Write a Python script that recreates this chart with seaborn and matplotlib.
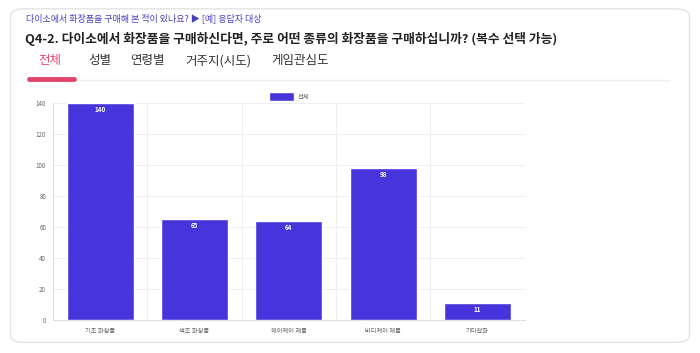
import matplotlib.pyplot as plt
import pandas as pd
import seaborn as sns
from matplotlib.patches import FancyBboxPatch

categories = ["기초 화장품", "색조 화장품", "헤어케어 제품", "바디케어 제품", "기타잡화"]
counts = [140, 65, 64, 98, 11]
series_name = "전체"
y_ticks = [0, 20, 40, 60, 80, 100, 120, 140]
tabs = ["전체", "성별", "연령별", "거주지(시도)", "게임관심도"]

BAR = "#4735dc"

sns.set_theme(style="white")
plt.rcParams["font.family"] = ["Noto Sans CJK KR", "DejaVu Sans"]

df = pd.DataFrame({"category": categories, "count": counts, "series": series_name})

fig = plt.figure(figsize=(7.0, 3.53), dpi=100)

# card background, kept behind the axes
card = FancyBboxPatch((0.015, 0.03), 0.97, 0.945, boxstyle="round,pad=0,rounding_size=0.02",
                      transform=fig.transFigure, facecolor="white", edgecolor="#e3e3e3",
                      lw=1, zorder=-10)
fig.patches.append(card)

fig.text(0.037, 0.948, "다이소에서 화장품을 구매해 본 적이 있나요? ▶ [예] 응답자 대상",
         fontsize=6.5, color="#4a3fbf", va="center")
fig.text(0.035, 0.89, "Q4-2. 다이소에서 화장품을 구매하신다면, 주로 어떤 종류의 화장품을 구매하십니까? (복수 선택 가능)",
         fontsize=9.2, fontweight="bold", color="#222222", va="center")
tab_x = [0.055, 0.126, 0.186, 0.265, 0.387]
for i, (t, x) in enumerate(zip(tabs, tab_x)):
    fig.text(x, 0.828, t, fontsize=9, va="center",
             color="#e0456c" if i == 0 else "#333333")
fig.add_artist(plt.Line2D([0.038, 0.955], [0.773, 0.773], color="#eeeeee", lw=1,
                          transform=fig.transFigure))
fig.add_artist(plt.Line2D([0.042, 0.105], [0.776, 0.776], color="#e0456c", lw=3.5,
                          solid_capstyle="round", transform=fig.transFigure))

ax = fig.add_axes([0.0757, 0.0935, 0.674, 0.6145])
ax.set_facecolor("none")
sns.barplot(data=df, x="category", y="count", hue="series", palette=[BAR],
            width=0.71, ax=ax, saturation=1)
ax.set_ylim(0, 140)
ax.set_xlim(-0.5, 4.5)
ax.set_yticks(y_ticks)
ax.set_xlabel("")
ax.set_ylabel("")
ax.tick_params(axis="both", labelsize=4.5, colors="#666666", length=0, pad=5)
ax.set_axisbelow(True)
ax.grid(axis="y", color="#eeeeee", lw=0.7)
for xb in [0.5, 1.5, 2.5, 3.5, 4.5]:
    ax.axvline(xb, color="#eeeeee", lw=0.7, zorder=0)
for s in ["top", "right"]:
    ax.spines[s].set_visible(False)
ax.spines["left"].set_color("#dddddd")
ax.spines["bottom"].set_color("#dddddd")
ax.spines["left"].set_linewidth(0.7)
ax.spines["bottom"].set_linewidth(0.7)

for i, v in enumerate(counts):
    ax.text(i, v - 4, str(v), ha="center", va="center", fontsize=4.5,
            color="white", fontweight="bold")

leg = ax.legend(loc="upper center", bbox_to_anchor=(0.5, 1.075), frameon=False,
                fontsize=4.5, handlelength=4, handleheight=1.8, handletextpad=0.6)
for txt in leg.get_texts():
    txt.set_color("#666666")

fig.savefig("out.png", dpi=100)
